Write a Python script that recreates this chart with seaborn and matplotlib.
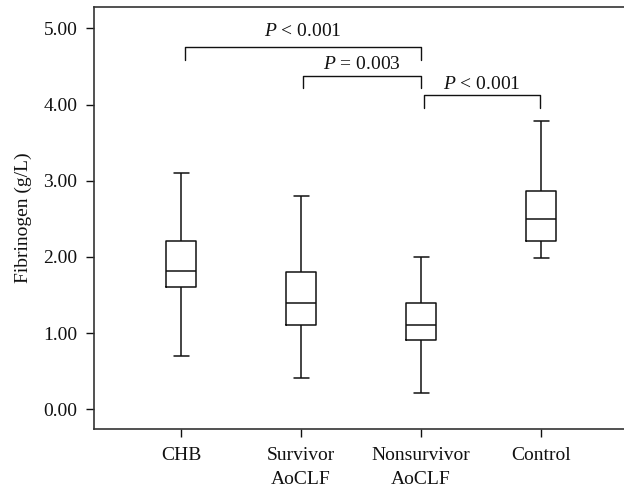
import numpy as np
import pandas as pd
import matplotlib
matplotlib.use("Agg")
import matplotlib.pyplot as plt
import seaborn as sns

# Box summaries (g/L)
groups = ["CHB", "Survivor\nAoCLF", "Nonsurvivor\nAoCLF", "Control"]
lower = [0.70, 0.41, 0.21, 1.99]
q1 = [1.61, 1.10, 0.91, 2.21]
median = [1.81, 1.40, 1.10, 2.50]
q3 = [2.21, 1.80, 1.40, 2.86]
upper = [3.10, 2.80, 2.00, 3.78]

# significance brackets (left end, right end, height)
bracket_left = [0.03, 1.02, 2.02]
bracket_right = [2.0, 2.0, 2.99]
bracket_y = [4.75, 4.38, 4.12]
label_y = [4.90, 4.47, 4.20]
p_labels = ["< 0.001", "= 0.003", "< 0.001"]

sns.set_style("ticks")
plt.rcParams["font.family"] = ["Liberation Serif", "DejaVu Serif"]
plt.rcParams["mathtext.fontset"] = "custom"
plt.rcParams["mathtext.it"] = "Liberation Serif:italic"
plt.rcParams["mathtext.rm"] = "Liberation Serif"

# five values per group give exactly these quartiles, whiskers at min/max
rows = []
for i, g in enumerate(groups):
    for v in [lower[i], q1[i], median[i], q3[i], upper[i]]:
        rows.append({"group": g, "value": v})
df = pd.DataFrame(rows)

fs = 14
fig = plt.figure(figsize=(6.24, 4.91), dpi=100)
ax = fig.add_axes([94 / 624, 1 - 429 / 491, 1 - 94 / 624, (429 - 7) / 491])

sns.boxplot(data=df, x="group", y="value", order=groups, width=0.25,
            whis=(0, 100), fill=False, color="#111111", linewidth=1.1,
            showfliers=False, ax=ax)

for a, b, h, ty, lab in zip(bracket_left, bracket_right, bracket_y, label_y, p_labels):
    ax.plot([a, a, b, b], [h - 0.16, h, h, h - 0.16], color="#111111", lw=1.0)
    ax.text((a + b) / 2, ty, r"$\mathit{P}$ " + lab, ha="center",
            va="baseline", fontsize=fs, color="#111111")

ax.set_xlim(-0.725, 3.69)
ax.set_ylim(-0.26, 5.28)
ax.set_yticks([0, 1, 2, 3, 4, 5])
ax.set_yticklabels([f"{v:.2f}" for v in [0, 1, 2, 3, 4, 5]])
ax.set_xlabel("")
ax.set_ylabel("Fibrinogen (g/L)", fontsize=fs, color="#111111", labelpad=8)
ax.tick_params(axis="both", labelsize=fs, colors="#111111", length=6,
               width=1.0, pad=6)
ax.tick_params(axis="x", pad=7)
for t in ax.get_xticklabels():
    t.set_linespacing(1.55)
for s in ["left", "bottom", "top"]:
    ax.spines[s].set_color("#333333")
    ax.spines[s].set_linewidth(1.2)
ax.spines["right"].set_visible(False)

fig.savefig("out.png", dpi=100)
